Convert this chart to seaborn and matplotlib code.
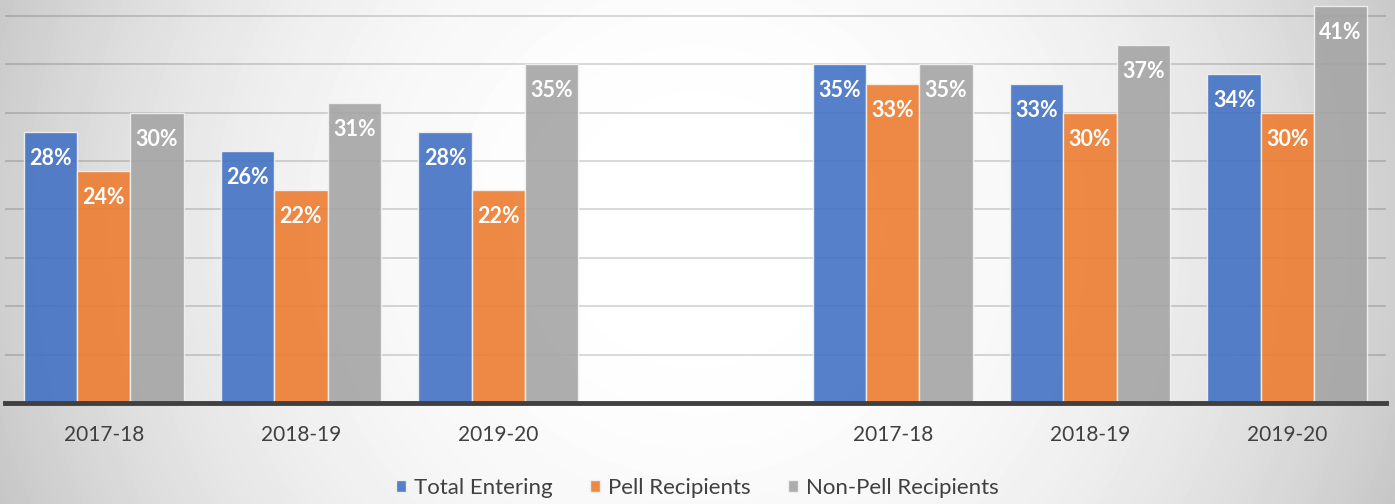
import numpy as np
import pandas as pd
import matplotlib
matplotlib.use("Agg")
import matplotlib.pyplot as plt
import seaborn as sns

# ---- data ----
years = ["2017-18", "2018-19", "2019-20"]
groups = ["Group 1", "Group 2"]
series = ["Total Entering", "Pell Recipients", "Non-Pell Recipients"]
total_entering = [28, 26, 28, 35, 33, 34]
pell_recipients = [24, 22, 22, 33, 30, 30]
non_pell_recipients = [30, 31, 35, 35, 37, 41]
colors = ["#4472C4", "#ED7D31", "#A5A5A5"]

slot_keys = [f"{g}|{y}" for g in groups for y in years]
order = slot_keys[:3] + ["gap"] + slot_keys[3:]
tick_labels = years + [""] + years

rows = []
for name, vals in zip(series, [total_entering, pell_recipients, non_pell_recipients]):
    for key, v in zip(slot_keys, vals):
        rows.append({"slot": key, "series": name, "value": v})
df = pd.DataFrame(rows)

sns.set_theme(style="white")
plt.rcParams["font.family"] = ["Lato", "DejaVu Sans"]

W, H = 1395, 504
fig = plt.figure(figsize=(W / 100, H / 100), dpi=100)

# background radial gradient
bg = fig.add_axes([0, 0, 1, 1], zorder=-5)
yy, xx = np.mgrid[0:H, 0:W]
d2 = ((xx - 697) / 700.0) ** 2 + ((yy - 230) / 700.0) ** 2
grad = np.clip(1.0 - 0.19 * d2 ** 1.2, 0, 1)
bg.imshow(grad, cmap="gray", vmin=0, vmax=1, aspect="auto", interpolation="bilinear")
bg.axis("off")

ax = fig.add_axes([5 / W, 1 - 403 / H, 1381 / W, 403 / H])
ax.set_facecolor("none")

sns.barplot(data=df, x="slot", y="value", hue="series", order=order,
            hue_order=series, palette=colors, saturation=1, width=0.81, alpha=0.9,
            edgecolor="#f2f2f2", linewidth=1.0, ax=ax, errorbar=None)

ax.set_xlim(-0.5, 6.5)
ax.set_ylim(0, 41.65)
ax.set_yticks(np.arange(0, 45, 5))
ax.yaxis.grid(True, color="black", alpha=0.16, lw=1.3)
ax.set_axisbelow(True)
ax.tick_params(axis="y", length=0, labelleft=False)
ax.set_xticks(range(len(order)))
ax.set_xticklabels(tick_labels, fontsize=15, color="#404040")
ax.tick_params(axis="x", length=0, pad=16)
ax.set_xlabel("")
ax.set_ylabel("")
for s in ["top", "left", "right"]:
    ax.spines[s].set_visible(False)
ax.spines["bottom"].set_color("#404040")
ax.spines["bottom"].set_linewidth(3.5)

for cont in ax.containers:
    for bar in cont:
        h = bar.get_height()
        if h is None or np.isnan(h):
            continue
        ax.annotate(f"{h:.0f}%", xy=(bar.get_x() + bar.get_width() / 2, h),
                    xytext=(0, -19), textcoords="offset points",
                    ha="center", va="center", color="white",
                    fontweight="bold", fontsize=15.5)

handles, labels = ax.get_legend_handles_labels()
if ax.get_legend() is not None:
    ax.get_legend().remove()
leg = fig.legend(handles, labels, loc="center", bbox_to_anchor=(0.5, 1 - 488 / H),
                 ncol=3, frameon=False, fontsize=16, handlelength=0.45,
                 handleheight=0.45, handletextpad=0.35, columnspacing=1.7)
for t in leg.get_texts():
    t.set_color("#404040")

fig.savefig("out.png", dpi=100)
